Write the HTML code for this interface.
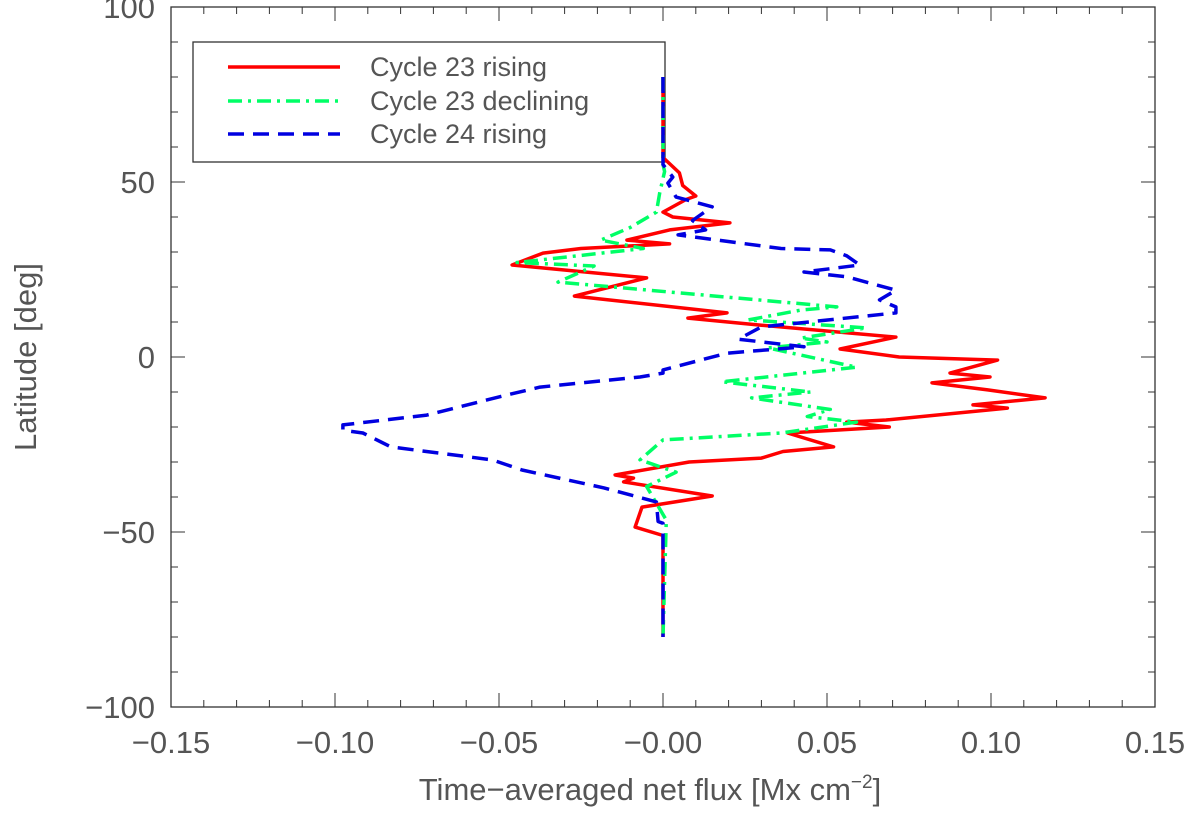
<!DOCTYPE html>
<html><head><meta charset="utf-8"><style>
body{margin:0;background:#fff}
svg text{font-family:"Liberation Sans",sans-serif;fill:#555}
</style></head><body>
<svg id="chart" width="1200" height="813" xmlns="http://www.w3.org/2000/svg">
<g id="axes"></g><g id="legend"></g><g id="series"></g>
</svg>
<script>
const xTicks=[-0.15,-0.10,-0.05,0,0.05,0.10,0.15];
const xTickLabels=["\u22120.15","\u22120.10","\u22120.05","\u22120.00","0.05","0.10","0.15"];
const yTicks=[100,50,0,-50,-100];
const yTickLabels=["100","50","0","\u221250","\u2212100"];
const redLat=[80,57,52.6,49,46,45,41.4,40,38.3,36.3,33.4,32.3,31,29.7,26.3,22.6,17.4,12.6,11.1,9.1,5.7,2.3,0,-0.9,-4.6,-5.7,-7.4,-9.4,-11.7,-13.7,-14.6,-18,-18.6,-20,-21.7,-25.7,-27,-28.9,-30,-33.7,-34.6,-35.7,-39.7,-42.9,-48.6,-51,-80];
const redVal=[0,0,0.005,0.006,0.01,0.007,0,0.003,0.0204,0.002,-0.011,0.002,-0.025,-0.0366,-0.046,-0.005,-0.027,0.0195,0.0076,0.03,0.071,0.054,0.072,0.102,0.0875,0.0997,0.082,0.099,0.1165,0.0945,0.105,0.068,0.056,0.069,0.038,0.052,0.0366,0.03,0.008,-0.0146,-0.009,-0.012,0.015,-0.0064,-0.0085,0,0];
const greenLat=[80,55,53,46.9,41.4,37,33.4,31,27,26,21.4,14.3,13.4,10.6,8.3,5.4,4.3,2.6,-2.9,-7.1,-10,-11.7,-15,-17,-18.6,-21.7,-23.7,-29.4,-32.9,-37,-46.6,-80];
const greenVal=[0,0,0.0005,-0.001,-0.002,-0.01,-0.019,-0.006,-0.0445,-0.021,-0.032,0.053,0.042,0.026,0.062,0.042,0.05,0.032,0.059,0.018,0.045,0.027,0.051,0.044,0.059,0.036,0,-0.007,0.004,-0.005,0.001,0];
const blueLat=[80,55,51.4,49.7,45.7,42.9,39,36.3,34.9,31,30.6,28.9,26.3,24.3,22.9,19.1,16.3,14.3,12.6,8.6,5.1,2.9,1.1,-3.7,-4.6,-5.7,-8.6,-11.4,-16.6,-19.4,-20.9,-21.7,-25.7,-29.4,-32.3,-37.4,-41.4,-47,-47.5,-80];
const blueVal=[0,0,0.003,0.0015,0.004,0.015,0.009,0.013,0.0046,0.036,0.051,0.056,0.06,0.043,0.056,0.071,0.066,0.071,0.071,0.03,0.023,0.043,0.0195,0,0,-0.007,-0.0375,-0.05,-0.072,-0.0976,-0.0976,-0.0915,-0.083,-0.052,-0.043,-0.018,-0.002,-0.0015,0,0];

const L=171,R=1155,T=7,B=707;
const X=v=>L+(v+0.15)/0.30*(R-L);
const Y=v=>B-(v+100)/200*(B-T);
const NS="http://www.w3.org/2000/svg";
function mk(tag,attrs,parent){const e=document.createElementNS(NS,tag);for(const k in attrs)e.setAttribute(k,attrs[k]);parent.appendChild(e);return e;}
const axes=document.getElementById('axes');
const frame=mk('rect',{x:L,y:T,width:R-L,height:B-T,fill:'none',stroke:'#333','stroke-width':1.3},axes);


for(let i=0;i<=30;i++){const v=-0.15+i*0.01;const x=X(v);const len=(i%5===0)?14:7;
 mk('line',{x1:x,y1:B,x2:x,y2:B-len,stroke:'#333','stroke-width':1},axes);
 mk('line',{x1:x,y1:T,x2:x,y2:T+len,stroke:'#333','stroke-width':1},axes);}
for(let i=0;i<=20;i++){const v=-100+i*10;const y=Y(v);const len=(i%5===0)?14:7;
 mk('line',{x1:L,y1:y,x2:L+len,y2:y,stroke:'#333','stroke-width':1},axes);
 mk('line',{x1:R,y1:y,x2:R-len,y2:y,stroke:'#333','stroke-width':1},axes);}
xTicks.forEach((v,i)=>{const t=mk('text',{x:X(v),y:753,'text-anchor':'middle','font-size':31},axes);t.textContent=xTickLabels[i];
 
 });
yTicks.forEach((v,i)=>{const t=mk('text',{x:155,y:Y(v)+11,'text-anchor':'end','font-size':31},axes);t.textContent=yTickLabels[i];
 
 });
const xt=mk('text',{x:650,y:800,'text-anchor':'middle','font-size':31},axes);
xt.innerHTML='Time\u2212averaged net flux [Mx cm<tspan dy="-12" font-size="19">\u22122</tspan><tspan dy="12">]</tspan>';


const yt=mk('text',{x:0,y:0,'text-anchor':'middle','font-size':31,transform:'translate(36,357) rotate(-90)'},axes);
yt.textContent='Latitude [deg]';


const lg=document.getElementById('legend');
const box=mk('rect',{x:193,y:42,width:472,height:120,fill:'#fff',stroke:'#333','stroke-width':1.3},lg);


const entries=[['Cycle 23 rising','#ff0000','none',67],[' Cycle 23 declining','#00ff66','14 6 3 6',101],['Cycle 24 rising','#0000e0','16 9',134]];
entries.forEach(e=>{
 const l=mk('line',{x1:228,y1:e[3],x2:340,y2:e[3],stroke:e[1],'stroke-width':3.5,'stroke-dasharray':e[2]},lg);
 
 
 const t=mk('text',{x:370,y:e[3]+9,'font-size':27,'xml:space':'preserve'},lg);t.textContent=e[0];
 
 });
const ser=document.getElementById('series');
function line(lat,val,color,dash,name){
 const d=lat.map((l,i)=>(i?'L':'M')+X(val[i]).toFixed(1)+','+Y(l).toFixed(1)).join('');
 const p=mk('path',{d:d,fill:'none',stroke:color,'stroke-width':3.5,'stroke-dasharray':dash,'stroke-linejoin':'round'},ser);
 
 }
line(redLat,redVal,'#ff0000','none','cycle23-rising-line');
line(greenLat,greenVal,'#00ff66','14 6 3 6','cycle23-declining-line');
line(blueLat,blueVal,'#0000e0','16 9','cycle24-rising-line');
</script>
</body></html>
